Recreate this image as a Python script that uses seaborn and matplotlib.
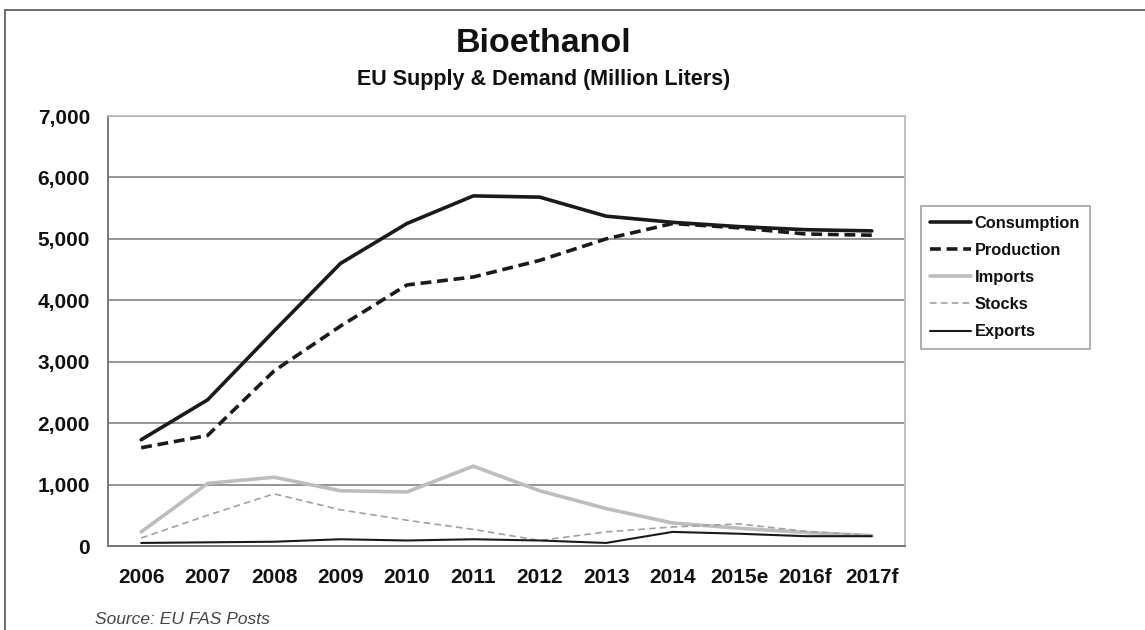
import pandas as pd
import matplotlib.pyplot as plt
import seaborn as sns
from matplotlib.lines import Line2D
from matplotlib.ticker import FixedLocator, FuncFormatter

# Données (millions de litres)
years = ['2006', '2007', '2008', '2009', '2010', '2011', '2012', '2013',
         '2014', '2015e', '2016f', '2017f']
consumption = [1730, 2380, 3500, 4600, 5250, 5700, 5680, 5370, 5270, 5200, 5150, 5130]
production = [1600, 1800, 2850, 3580, 4250, 4380, 4650, 5000, 5250, 5180, 5080, 5060]
imports = [230, 1020, 1120, 900, 880, 1300, 900, 610, 375, 290, 220, 170]
stocks = [130, 500, 850, 590, 420, 270, 90, 230, 310, 360, 240, 170]
exports = [50, 60, 70, 110, 90, 110, 90, 50, 230, 200, 160, 160]

series = {
    'Consumption': consumption,
    'Production': production,
    'Imports': imports,
    'Stocks': stocks,
    'Exports': exports,
}
df = pd.DataFrame([
    {'Year': y, 'pos': i, 'Series': name, 'Value': v}
    for name, vals in series.items()
    for i, (y, v) in enumerate(zip(years, vals))
])

styles = {
    'Consumption': dict(color='#1a1a1a', linewidth=2.6, linestyle='-'),
    'Production': dict(color='#1a1a1a', linewidth=2.6, linestyle=(0, (3, 1.6))),
    'Imports': dict(color='#bdbdbd', linewidth=2.6, linestyle='-'),
    'Stocks': dict(color='#a0a0a0', linewidth=1.2, linestyle=(0, (4, 2.5))),
    'Exports': dict(color='#1a1a1a', linewidth=1.5, linestyle='-'),
}

sns.set_style('white')
plt.rcParams['font.family'] = ['Liberation Sans', 'DejaVu Sans']
plt.rcParams['text.color'] = '#111111'
plt.rcParams['xtick.labelcolor'] = '#111111'
plt.rcParams['ytick.labelcolor'] = '#111111'

fig = plt.figure(figsize=(11.45, 6.3), dpi=100)
ax = fig.add_axes([0.0943, 0.1333, 0.6961, 0.6825])

for name in ['Imports', 'Stocks', 'Exports', 'Production', 'Consumption']:
    sub = df[df['Series'] == name]
    sns.lineplot(data=sub, x='pos', y='Value', ax=ax, label=name, **styles[name])

ax.set_xlim(-0.5, len(years) - 0.5)
ax.set_ylim(0, 7000)
ax.set_yticks(range(0, 7001, 1000))
ax.yaxis.set_major_formatter(FuncFormatter(lambda v, p: f'{int(v):,}'))
ax.set_xticks(range(len(years)))
ax.set_xticklabels(years)
ax.xaxis.set_minor_locator(FixedLocator([i - 0.5 for i in range(len(years) + 1)]))
ax.tick_params(axis='x', which='major', length=0, pad=16, labelsize=15)
ax.tick_params(axis='x', which='minor', length=5, width=1, color='#555555', direction='out')
ax.tick_params(axis='y', length=5, width=1, color='#555555', direction='out', pad=8, labelsize=15)
for lab in ax.get_xticklabels() + ax.get_yticklabels():
    lab.set_fontweight('bold')
ax.set_xlabel('')
ax.set_ylabel('')
ax.grid(axis='y', color='#8c8c8c', linewidth=1.3)
ax.set_axisbelow(True)
for side in ['left', 'bottom']:
    ax.spines[side].set_color('#6e6e6e')
    ax.spines[side].set_linewidth(1.3)
for side in ['top', 'right']:
    ax.spines[side].set_color('#bcbcbc')
    ax.spines[side].set_linewidth(1.3)

# Légende dans l'ordre du graphique
handles, labels = ax.get_legend_handles_labels()
order = ['Consumption', 'Production', 'Imports', 'Stocks', 'Exports']
hmap = dict(zip(labels, handles))
leg = fig.legend([hmap[o] for o in order], order, loc='upper left',
                 bbox_to_anchor=(0.804, 0.673), frameon=True, fancybox=False,
                 handlelength=2.5, handletextpad=0.2, labelspacing=0.74,
                 borderpad=0.6, borderaxespad=0,
                 prop={'weight': 'bold', 'size': 11.8})
leg.get_frame().set_edgecolor('#8c8c8c')
leg.get_frame().set_linewidth(1.2)
if ax.get_legend():
    ax.get_legend().remove()

# Titres
fig.text(0.475, 0.931, 'Bioethanol', ha='center', va='center', fontsize=24.5, fontweight='bold')
fig.text(0.475, 0.874, 'EU Supply & Demand (Million Liters)', ha='center', va='center',
         fontsize=15.5, fontweight='bold')
fig.text(0.083, 0.016, 'Source: EU FAS Posts', ha='left', va='center', fontsize=12.5,
         style='italic', color='#444444')

# Cadre de l'image
fig.add_artist(Line2D([0.004, 1.0], [0.984, 0.984], color='#555555', linewidth=1.2,
                      transform=fig.transFigure))
fig.add_artist(Line2D([0.004, 0.004], [0.0, 0.984], color='#555555', linewidth=1.2,
                      transform=fig.transFigure))

fig.savefig('out.png', dpi=100)
plt.close(fig)
